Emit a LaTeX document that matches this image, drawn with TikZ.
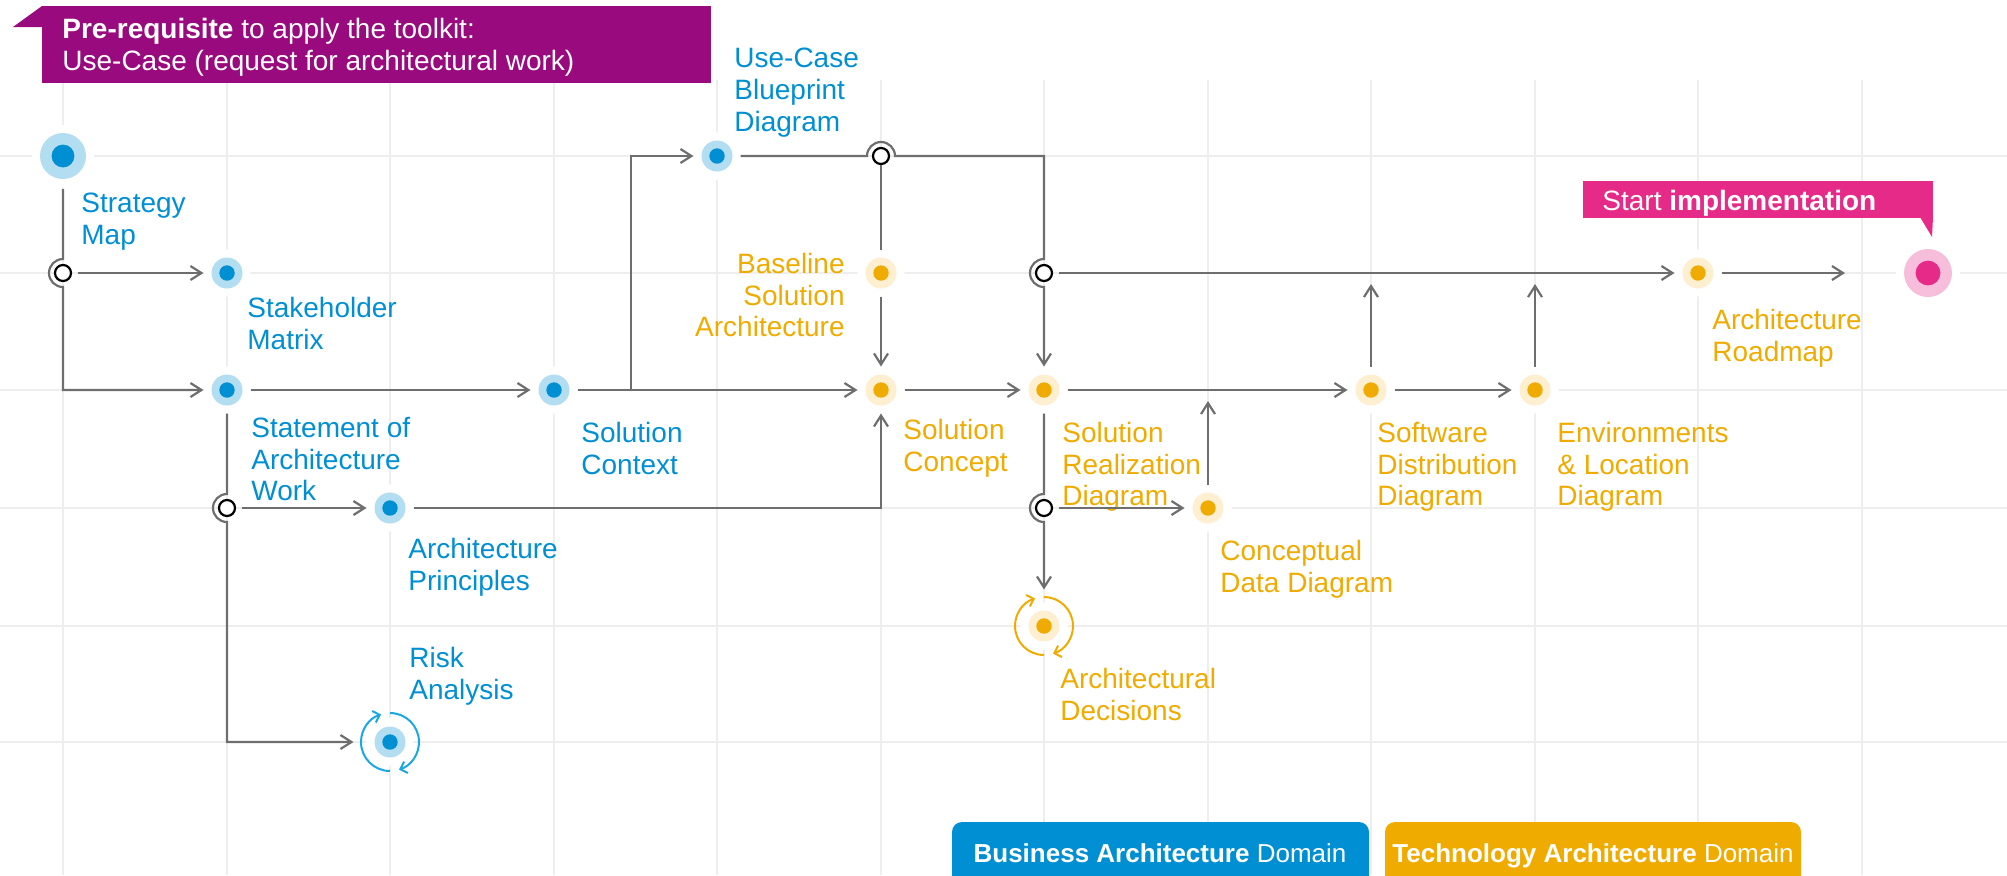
\documentclass[tikz,border=0pt]{standalone}
\usepackage{fontspec}
\setmainfont{Liberation Sans}
\usetikzlibrary{arrows.meta,calc}
\definecolor{bdark}{HTML}{008FD3}
\definecolor{blight}{HTML}{B3DEF2}
\definecolor{odark}{HTML}{F0AB00}
\definecolor{olight}{HTML}{FDEFD0}
\definecolor{pdark}{HTML}{E62A87}
\definecolor{plight}{HTML}{F7BEDB}
\definecolor{purp}{HTML}{990A7F}
\definecolor{cycb}{HTML}{1BA8E2}
\definecolor{lgrey}{HTML}{6E6E6E}
\definecolor{gridc}{HTML}{EEEEEE}
\tikzset{
  lab/.style={inner sep=0pt, font=\fontsize{14pt}{15.8pt}\selectfont, anchor=north west, align=left},
  blab/.style={lab, text=bdark},
  olab/.style={lab, text=odark},
  halo/.style={preaction={draw=white, line width=8pt}},
  dotnode/.style 2 args={circle, inner sep=0pt, minimum size=15.5pt, fill=#2, outer sep=4pt, halo,
     path picture={\fill[#1] (path picture bounding box.center) circle[radius=3.85pt];}},
  dotb/.style={dotnode={bdark}{blight}},
  doto/.style={dotnode={odark}{olight}},
  cycnode/.style={outer sep=10.5pt},
  bigb/.style={circle, inner sep=0pt, minimum size=23pt, fill=blight, outer sep=5pt, halo,
     path picture={\fill[bdark] (path picture bounding box.center) circle[radius=5.7pt];}},
  bigp/.style={circle, inner sep=0pt, minimum size=24pt, fill=plight, outer sep=5pt, halo,
     path picture={\fill[pdark] (path picture bounding box.center) circle[radius=6.2pt];}},
  junc/.style={circle, draw=black, line width=1.1pt, fill=white, minimum size=8pt, inner sep=0pt, outer sep=3.5pt},
  link/.style={draw=lgrey, line width=1.1pt},
  arr/.style={link, -{Straight Barb[length=5.5pt,width=7pt]}},
  cyca/.style={draw=#1, line width=1pt, -{Straight Barb[length=3pt,width=6pt]}},
  gridline/.style={draw=gridc, line width=1pt},
  boxtext/.style={inner sep=0pt, anchor=base, text=white, font=\fontsize{13pt}{15pt}\selectfont},
}
\begin{document}
\begin{tikzpicture}[x=0.5pt,y=-0.5pt]
\useasboundingbox (0,0) rectangle (2007,875);
% grid
\foreach \gx in {63,227,390,554,717,881,1044,1208,1371,1535,1698,1862}
  \draw[gridline] (\gx,80) -- (\gx,875);
\foreach \gy in {156,273,390,508,626,742}
  \draw[gridline] (0,\gy) -- (2007,\gy);

% banners
\fill[purp] (42,6) rectangle (711,83);
\fill[purp] (42,6) -- (13,27) -- (42,27) -- cycle;
\node[lab, text=white, font=\fontsize{14pt}{16pt}\selectfont] (pre) at (62,18)
  {\textbf{Pre-requisite} to apply the toolkit:\\Use-Case (request for architectural work)};
\fill[pdark] (1583,181) rectangle (1933,218);
\fill[pdark] (1920,217) -- (1933,217) -- (1932,237) -- cycle;
\node[inner sep=0pt, anchor=base west, text=white, font=\fontsize{14pt}{16pt}\selectfont] (startimpl) at (1602,210) {Start \textbf{implementation}};
\fill[bdark, rounded corners=5pt] (952,900) rectangle (1369,822);
\fill[odark, rounded corners=5pt] (1385,900) rectangle (1801,822);
\node[boxtext] (bdom) at (1160,862) {\textbf{Business Architecture} Domain};
\node[boxtext] (tdom) at (1593,862) {\textbf{Technology Architecture} Domain};

% nodes
\node[bigb] (start) at (63,156) {};
\node[dotb] (sm) at (227,273) {};
\node[dotb] (saw) at (227,390) {};
\node[dotb] (sc) at (554,390) {};
\node[dotb] (ucb) at (717,156) {};
\node[dotb] (ap) at (390,508) {};
\node[dotb, cycnode] (ra) at (390,742) {};
\node[doto] (bsa) at (881,273) {};
\node[doto] (scon) at (881,390) {};
\node[doto] (srd) at (1044,390) {};
\node[doto] (cdd) at (1208,508) {};
\node[doto, cycnode] (ad) at (1044,626) {};
\node[doto] (sdd) at (1371,390) {};
\node[doto] (eld) at (1535,390) {};
\node[doto] (ar) at (1698,273) {};
\node[bigp] (fin) at (1928,273) {};

\node[junc] (J1) at (63,273) {};
\node[junc] (J2) at (227,508) {};
\node[junc] (J3) at (881,156) {};
\node[junc] (J4) at (1044,273) {};
\node[junc] (J5) at (1044,508) {};

\coordinate (split) at (631,390);
\coordinate (t1) at (1208,401);
\coordinate (t2) at (1371,284);
\coordinate (t3) at (1535,284);

% labels
\node[blab] (lstrat) at (81,193) {Strategy\\Map};
\node[blab] (lsm) at (247,297) {Stakeholder\\Matrix};
\node[blab] (lsaw) at (251,417) {Statement of\\Architecture\\Work};
\node[blab] (lap) at (408,538) {Architecture\\Principles};
\node[blab] (lra) at (409,647) {Risk\\Analysis};
\node[blab] (lsc) at (581,422) {Solution\\Context};
\node[blab] (lucb) at (734,48) {Use-Case\\Blueprint\\Diagram};
\node[olab, anchor=north east, align=right] (lbsa) at (845,253) {Baseline\\Solution\\Architecture};
\node[olab] (lscon) at (903,419) {Solution\\Concept};
\node[olab] (lsrd) at (1062,422) {Solution\\Realization\\Diagram};
\node[olab] (lcdd) at (1220,540) {Conceptual\\Data Diagram};
\node[olab] (lad) at (1060,668) {Architectural\\Decisions};
\node[olab] (lsdd) at (1377,422) {Software\\Distribution\\Diagram};
\node[olab] (leld) at (1557,422) {Environments\\\& Location\\Diagram};
\node[olab] (lar) at (1712,309) {Architecture\\Roadmap};

% connectors
\draw[arr] (start.south) -- ($(J1)+(90:7pt)$) arc[start angle=90, end angle=270, radius=7pt] |- (saw.west);
\draw[arr] (J1) -- (sm);
\draw[arr] (saw) -- (sc);
\draw[arr] (sc) -- (scon);
\draw[arr] (split) |- (ucb.west);
\draw[arr] (ucb.east) -- ($(J3)+(180:7pt)$) arc[start angle=180, end angle=0, radius=7pt]
   -| ($(J4)+(90:7pt)$) arc[start angle=90, end angle=270, radius=7pt] -- (srd.north);
\draw[link, shorten <=-3pt] (J3.south) -- (bsa.north);
\draw[arr] (bsa) -- (scon);
\draw[arr] (J4) -- (ar);
\draw[arr, shorten >=24.5pt] (ar) -- (fin);
\draw[arr] (scon) -- (srd);
\draw[arr] (ap.east) -| (scon.south);
\draw[arr] (saw.south) -- ($(J2)+(90:7pt)$) arc[start angle=90, end angle=270, radius=7pt] |- (ra.west);
\draw[arr] (J2) -- (ap);
\draw[arr] (srd.south) -- ($(J5)+(90:7pt)$) arc[start angle=90, end angle=270, radius=7pt] -- (ad.north);
\draw[arr] (J5) -- (cdd);
\draw[arr] (cdd.north) -- (t1);
\draw[arr] (srd) -- (sdd);
\draw[arr] (sdd) -- (eld);
\draw[arr] (sdd.north) -- (t2);
\draw[arr] (eld.north) -- (t3);

% cycle arrows
\draw[cyca=cycb] ($(ra)+(270:14.5pt)$) arc[start angle=270, end angle=108, radius=14.5pt];
\draw[cyca=cycb] ($(ra)+(90:14.5pt)$) arc[start angle=90, end angle=-72, radius=14.5pt];
\draw[cyca=odark] ($(ad)+(270:14.5pt)$) arc[start angle=270, end angle=108, radius=14.5pt];
\draw[cyca=odark] ($(ad)+(90:14.5pt)$) arc[start angle=90, end angle=-72, radius=14.5pt];
\end{tikzpicture}
\end{document}
